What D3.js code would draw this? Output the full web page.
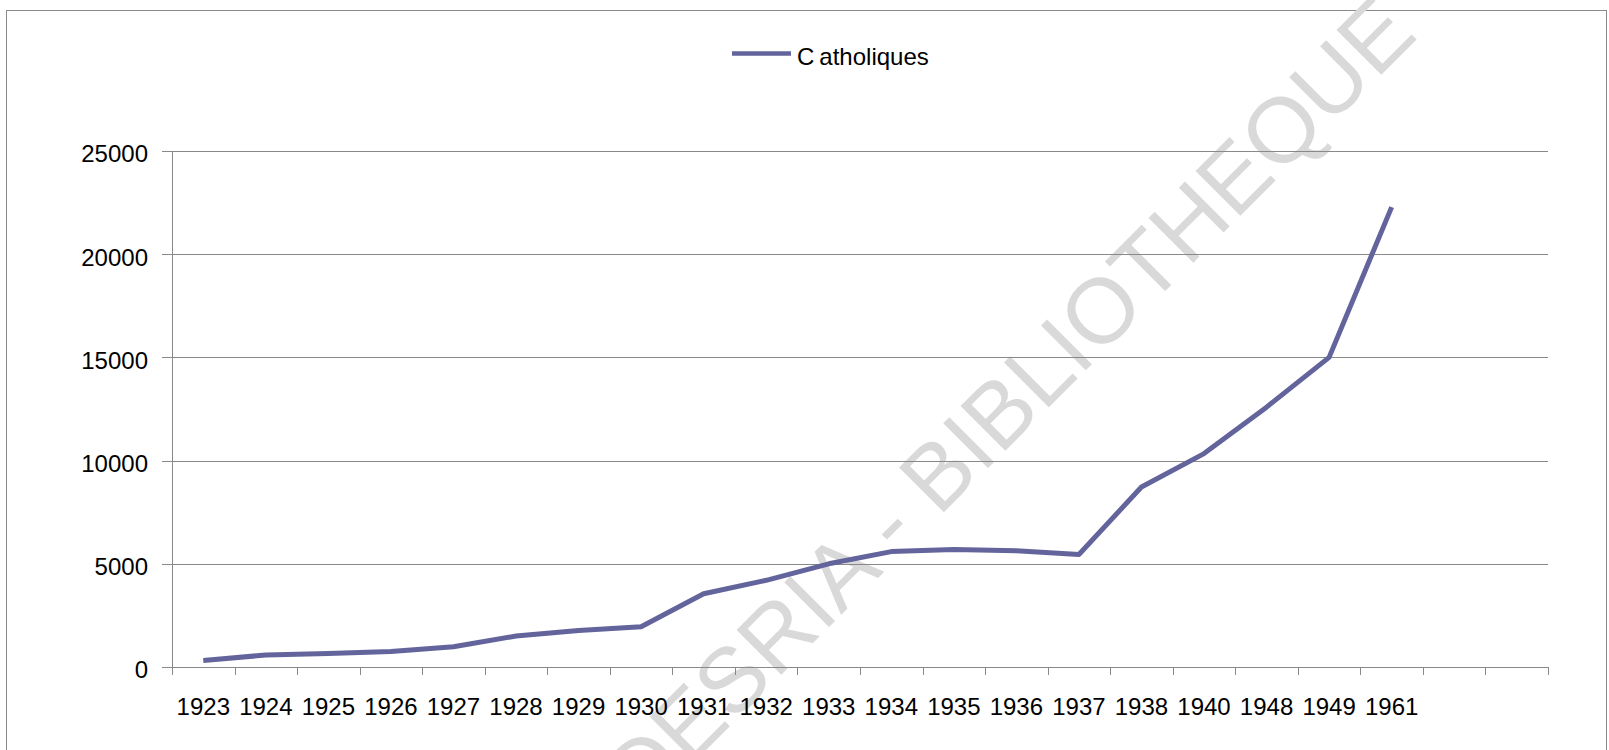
<!DOCTYPE html>
<html>
<head>
<meta charset="utf-8">
<script src="https://cdn.jsdelivr.net/npm/d3@7"></script>
<style>
  body { margin: 0; background: #fff; }
  svg { display: block; font-family: "Liberation Sans", Arial, sans-serif; }
</style>
</head>
<body>
<script>
// categories (the last two slots are empty in the original sheet)
var years = ["1923", "1924", "1925", "1926", "1927", "1928", "1929", "1930", "1931", "1932",
             "1933", "1934", "1935", "1936", "1937", "1938", "1940", "1948", "1949", "1961", "", ""];
var catholiques = [320, 580, 660, 750, 980, 1500, 1770, 1950, 3550, 4200,
                   5000, 5590, 5690, 5630, 5450, 8720, 10340, 12590, 15000, 22280];
var yTicks = [0, 5000, 10000, 15000, 20000, 25000];
var seriesName = "Catholiques";
var watermark = "CODESRIA - BIBLIOTHEQUE";

var svgWidth = 1609;
var svgHeight = 750;
var plotLeft = 172, plotRight = 1548, plotTop = 151, plotBottom = 667;
var lineColor = "#63649c";
var gridColor = "#898989";

var svg = d3.select("body")
            .append("svg")
            .attr("width", svgWidth)
            .attr("height", svgHeight);

var x = d3.scaleBand()
          .domain(d3.range(years.length))
          .range([plotLeft, plotRight])
          .padding(0);

var xEdges = d3.scaleLinear()
               .domain([0, years.length])
               .range([plotLeft, plotRight]);

var y = d3.scaleLinear()
          .domain([0, 25000])
          .range([plotBottom, plotTop]);

// outer frame
svg.append("rect")
   .attr("x", 6.5)
   .attr("y", 10.5)
   .attr("width", 1600)
   .attr("height", 760)
   .attr("fill", "none")
   .attr("stroke", "#8a8a8a")
   .attr("stroke-width", 1);

// watermark
svg.append("text")
   .attr("transform", "translate(982,474) rotate(-45)")
   .attr("text-anchor", "middle")
   .attr("font-size", "92px")
   .attr("fill", "#d9d9d9")
   .text(watermark);

// horizontal grid lines
var grid = svg.append("g")
   .attr("transform", "translate(" + plotLeft + ",0)")
   .call(d3.axisLeft(y).tickValues(yTicks).tickSize(-(plotRight - plotLeft)).tickFormat(""));
grid.select(".domain").remove();
grid.selectAll("line").attr("stroke", gridColor).attr("shape-rendering", "crispEdges");

// y axis with labels
var yAxis = svg.append("g")
   .attr("transform", "translate(" + plotLeft + ",0)")
   .call(d3.axisLeft(y).tickValues(yTicks).tickSize(10).tickPadding(14).tickFormat(d3.format("d")));
yAxis.select(".domain").attr("stroke", gridColor).attr("shape-rendering", "crispEdges");
yAxis.selectAll("line").attr("stroke", gridColor).attr("shape-rendering", "crispEdges");
yAxis.selectAll("text")
     .attr("font-size", "24px")
     .attr("fill", "#000")
     .attr("dy", "0.45em")
     .attr("font-family", "Liberation Sans, Arial, sans-serif");

// x axis: ticks on category edges
var xTickAxis = svg.append("g")
   .attr("transform", "translate(0," + plotBottom + ")")
   .call(d3.axisBottom(xEdges).tickValues(d3.range(years.length + 1)).tickSize(8).tickFormat(""));
xTickAxis.select(".domain").attr("stroke", gridColor).attr("shape-rendering", "crispEdges");
xTickAxis.selectAll("line").attr("stroke", gridColor).attr("shape-rendering", "crispEdges");

// x labels in the middle of each category
var xLabelAxis = svg.append("g")
   .attr("transform", "translate(0," + plotBottom + ")")
   .call(d3.axisBottom(x).tickSize(0).tickPadding(31).tickFormat(function(i) { return years[i]; }));
xLabelAxis.select(".domain").remove();
xLabelAxis.selectAll("text")
     .attr("font-size", "24px")
     .attr("fill", "#000")
     .attr("font-family", "Liberation Sans, Arial, sans-serif");

// data line
var line = d3.line()
             .x(function(d, i) { return x(i) + x.bandwidth() / 2; })
             .y(function(d) { return y(d); });

svg.append("path")
   .datum(catholiques)
   .attr("d", line)
   .attr("fill", "none")
   .attr("stroke", lineColor)
   .attr("stroke-width", 5)
   .attr("stroke-linejoin", "round");

// legend
svg.append("line")
   .attr("x1", 732)
   .attr("x2", 791)
   .attr("y1", 53.5)
   .attr("y2", 53.5)
   .attr("stroke", lineColor)
   .attr("stroke-width", 4.5);

var legendText = svg.append("text")
   .attr("x", 797)
   .attr("y", 65)
   .attr("font-size", "24px")
   .attr("fill", "#000");
legendText.append("tspan").text(seriesName.slice(0, 1));
legendText.append("tspan").attr("dx", 5).text(seriesName.slice(1));
</script>
</body>
</html>
